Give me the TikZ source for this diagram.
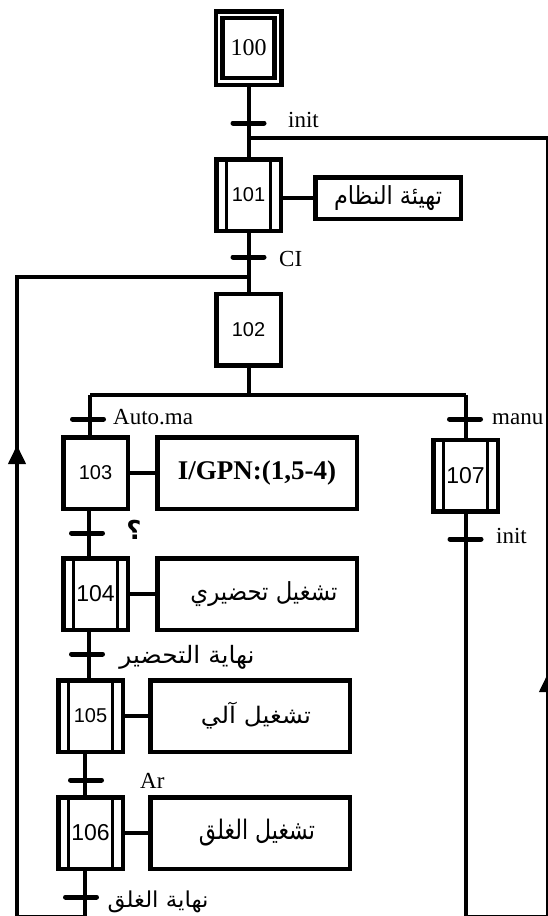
\documentclass[tikz,border=0pt]{standalone}
\usepackage{fontspec}
\setmainfont{Liberation Serif}
\setsansfont{Liberation Sans}
\newfontfamily\arabicfont[Script=Arabic]{DejaVu Sans}
\TeXXeTstate=1
\usetikzlibrary{arrows.meta}

\newcommand{\artext}[3]{\resizebox*{#1}{#2}{\arabicfont #3}}

\tikzset{
  stepbox/.style={draw, line width=4.5pt, minimum width=64.5pt, minimum height=71.5pt,
    inner sep=0pt, font=\sffamily\fontsize{20}{24}\selectfont},
  macrostep/.style={stepbox, path picture={
    \draw[line width=3pt] ([xshift=10pt]path picture bounding box.north west)
      -- ([xshift=10pt]path picture bounding box.south west);
    \draw[line width=3pt] ([xshift=-10pt]path picture bounding box.north east)
      -- ([xshift=-10pt]path picture bounding box.south east);}},
  actbox/.style={draw, line width=4.5pt, minimum width=199.5pt, minimum height=71.5pt, inner sep=0pt},
  link/.style={line width=4pt},
  tick/.style={line width=5pt, line cap=round},
  cond/.style={font=\fontsize{23}{26}\selectfont, inner sep=0pt},
  uparrow/.style={-{Triangle[length=19pt,width=17pt]}, line width=4pt}
}

\begin{document}
\begin{tikzpicture}[x=1pt, y=-1pt]
  \useasboundingbox (0,0) rectangle (547,916);

  % steps
  \node[stepbox, font=\fontsize{24}{28}\selectfont, minimum width=65.5pt, minimum height=73.5pt] (s100) at (248.5,48) {100};
  \draw[line width=4.5pt] ([shift={(9,9)}]s100.north west) rectangle ([shift={(-9,-9)}]s100.south east);
  \node[macrostep] (s101) at (248.5,195) {101};
  \node[stepbox] (s102) at (248.5,329.5) {102};
  \node[stepbox] (s103) at (95.5,473) {103};
  \node[macrostep, font=\sffamily\fontsize{23}{26}\selectfont] (s104) at (95.5,594) {104};
  \node[macrostep] (s105) at (90.5,716) {105};
  \node[macrostep, font=\sffamily\fontsize{23}{26}\selectfont] (s106) at (90.5,833) {106};
  \node[macrostep, font=\sffamily\fontsize{23}{26}\selectfont] (s107) at (465.5,475.5) {107};

  % actions
  \node[actbox, minimum width=145.5pt, minimum height=41.5pt] (a101) at (388,198)
    {\artext{108pt}{25pt}{\beginR تهيئة النظام\endR}};
  \node[actbox, font=\bfseries\fontsize{27}{30}\selectfont] (a103) at (257,473) {I/GPN:(1,5-4)};
  \node[actbox] (a104) at (257,594) {\hspace*{14pt}\artext{147pt}{25pt}{\beginR تشغيل تحضيري\endR}};
  \node[actbox] (a105) at (250,716) {\hspace*{12pt}\artext{110pt}{27pt}{\beginR تشغيل آلي\endR}};
  \node[actbox] (a106) at (250,833) {\hspace*{14pt}\artext{116pt}{27pt}{\beginR تشغيل الغلق\endR}};

  % junctions
  \coordinate (j1) at (248.5,138);
  \coordinate (j2) at (248.5,277);
  \coordinate (br) at (248.5,395);
  \coordinate (bl) at (90,395);
  \coordinate (brr) at (465.5,395);
  \coordinate (ax) at (89,0);
  \coordinate (bx) at (85,0);
  \coordinate (lc) at (17,916.5);
  \coordinate (rc) at (548,916.5);
  \coordinate (la) at (17,445);
  \coordinate (ra) at (548,673);

  % links
  \draw[link] (s100.south) -- (s101.north);
  \draw[link] (s101.south) -- (s102.north);
  \draw[link] (s102.south) -- (br);
  \draw[link] (bl) -- (brr);
  \draw[link] (bl) -- (bl |- s103.north);
  \draw[link] (brr) -- (s107.north);
  \draw[link] (s103.south -| ax) -- (s104.north -| ax);
  \draw[link] (s104.south -| ax) -- (s105.north -| ax);
  \draw[link] (s105.south -| bx) -- (s106.north -| bx);
  \draw[link] (s106.south -| bx) |- (lc) |- (j2);
  \draw[link] (s107.south) |- (rc) |- (j1);
  \draw[uparrow] ([yshift=-30pt]la) -- (la);
  \draw[uparrow] ([yshift=-30pt]ra) -- (ra);

  \draw[link] (a101.west) -- (a101.west -| s101.east);
  \draw[link] (s103) -- (a103);
  \draw[link] (s104) -- (a104);
  \draw[link] (s105) -- (a105);
  \draw[link] (s106) -- (a106);

  % transitions
  \coordinate (t1) at (248.5,123);
  \coordinate (t2) at (248.5,257);
  \coordinate (t3) at (88,419);
  \coordinate (t4) at (465,419);
  \coordinate (t5) at (87,533);
  \coordinate (t6) at (87,654);
  \coordinate (t7) at (86,780);
  \coordinate (t8) at (81,897);
  \coordinate (t9) at (465.5,539);
  \foreach \t in {t1,t2,t3,t4,t5,t6,t7,t8,t9}
    \draw[tick] ([xshift=-15.5pt]\t) -- ([xshift=15.5pt]\t);

  % receptivities
  \node[cond, anchor=base west] (c1) at (288,127) {init};
  \node[cond, anchor=base west] (c2) at (279,266) {CI};
  \node[cond, anchor=base west] (c3) at (113,424) {Auto.ma};
  \node[cond, anchor=base west] (c4) at (492,424) {manu};
  \node[font=\bfseries\fontsize{26}{28}\selectfont] (c5) at (134,530) {\arabicfont ؟};
  \node (c6) at (187,657) {\artext{135pt}{24pt}{\beginR نهاية التحضير\endR}};
  \node[cond, anchor=base west] (c7) at (140,788) {Ar};
  \node (c8) at (158,902) {\artext{101pt}{22pt}{\beginR نهاية الغلق\endR}};
  \node[cond, anchor=base west] (c9) at (496,543) {init};
\end{tikzpicture}
\end{document}
